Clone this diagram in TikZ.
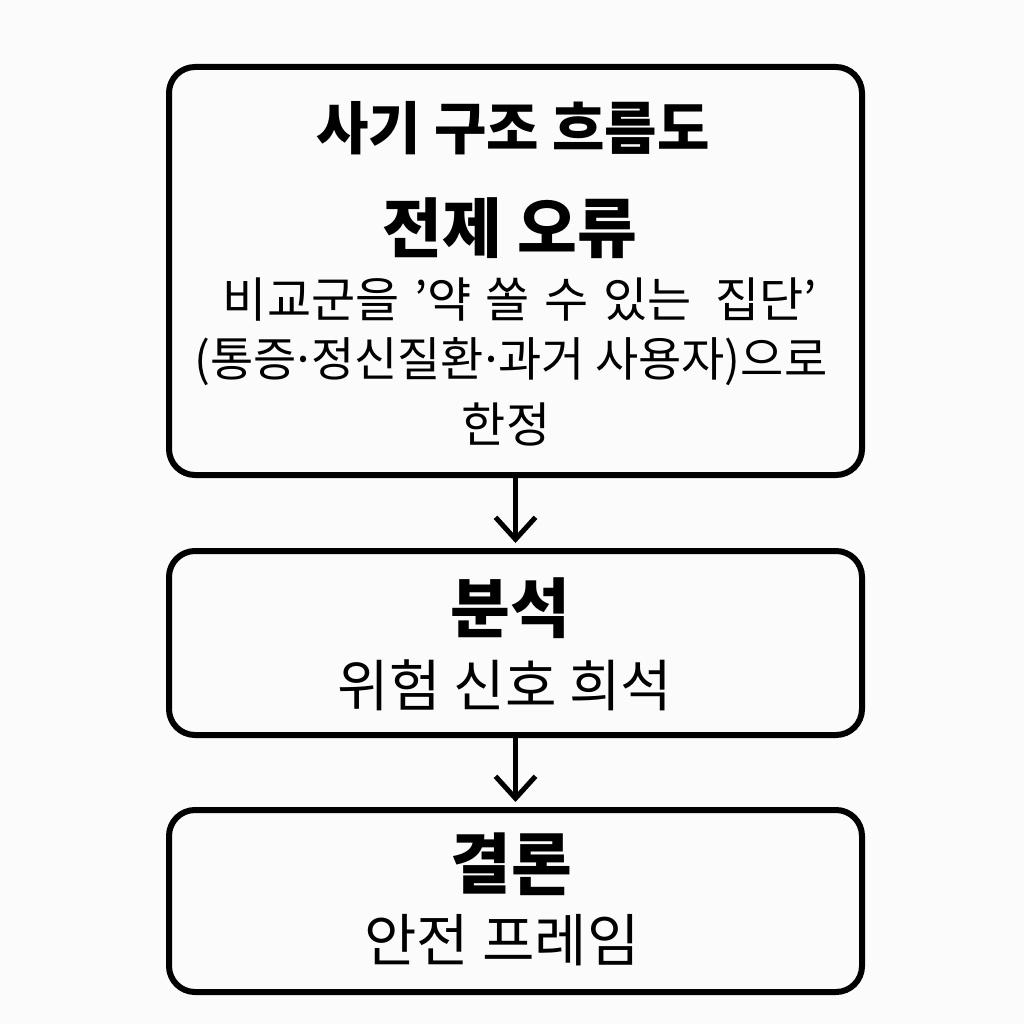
\documentclass[tikz,border=0pt]{standalone}
\usepackage{fontspec}
\setmainfont{Noto Sans CJK KR}
\usetikzlibrary{arrows.meta}
\definecolor{bg}{RGB}{251,251,251}
\newcommand{\mdot}{\hspace{-0.13em}·\hspace{-0.13em}}
\newcommand{\wsp}{\hspace{0.3em}}
\tikzset{
  boxnode/.style={draw=black, line width=6pt, rounded corners=26pt, inner sep=0pt, anchor=north west},
  flowarrow/.style={line width=5pt, -{Straight Barb[length=22pt,width=40pt,line width=5pt]}, shorten >=5pt},
  txt/.style={inner sep=0pt, anchor=center, text=black},
}
\begin{document}
\begin{tikzpicture}[x=1pt,y=-1pt]
\useasboundingbox[fill=bg] (0,0) rectangle (1024,1024);
% boxes
\node[boxnode, minimum width=693pt, minimum height=408pt] (b1) at (166,64) {};
\node[boxnode, minimum width=693pt, minimum height=184pt] (b2) at (166,548) {};
\node[boxnode, minimum width=693pt, minimum height=182pt] (b3) at (166,807) {};
% texts box 1
\node[txt, font=\fontsize{57}{64}\selectfont\bfseries] (t1) at (513,128) {사기 구조 흐름도};
\node[txt, font=\fontsize{65}{72}\selectfont\bfseries] (t2) at (510,228) {전제 오류};
\node[txt, font=\fontsize{48}{56}\selectfont] (t3) at (520,300) {비교군을{\wsp}’약{\wsp}쏠{\wsp}수{\wsp}있는{\wsp}{\hspace{0.2em}}집단’};
\node[txt, font=\fontsize{47}{54}\selectfont] (t4) at (511,362) {(통증{\mdot}정신질환{\mdot}과거 사용자)으로};
\node[txt, font=\fontsize{48}{56}\selectfont] (t5) at (506,424) {한정};
% texts box 2
\node[txt, font=\fontsize{65}{72}\selectfont\bfseries] (t6) at (510,608) {분석};
\node[txt, font=\fontsize{56}{64}\selectfont] (t7) at (505,685) {위험 신호 희석};
% texts box 3
\node[txt, font=\fontsize{66}{72}\selectfont\bfseries] (t8) at (511,864) {결론};
\node[txt, font=\fontsize{57}{64}\selectfont] (t9) at (502,940) {안전 프레임};
% arrows
\draw[flowarrow] (b1.south) -- (b2.north);
\draw[flowarrow] (b2.south) -- (b3.north);
\end{tikzpicture}
\end{document}
